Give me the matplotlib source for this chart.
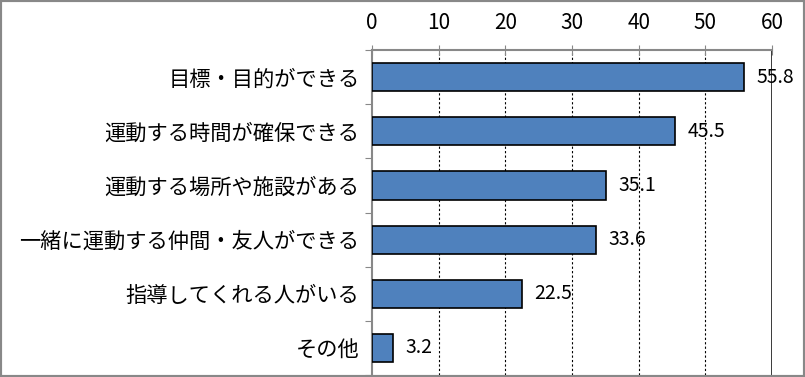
import matplotlib
matplotlib.use("Agg")
import matplotlib.pyplot as plt
from matplotlib.patches import Rectangle
import numpy as np

plt.rcParams['font.family'] = ['Noto Sans CJK JP', 'DejaVu Sans']

categories = ["目標・目的ができる", "運動する時間が確保できる", "運動する場所や施設がある",
              "一緒に運動する仲間・友人ができる", "指導してくれる人がいる", "その他"]
values = [55.8, 45.5, 35.1, 33.6, 22.5, 3.2]
xticks = [0, 10, 20, 30, 40, 50, 60]

fig = plt.figure(figsize=(8.05, 3.77), dpi=100)
ax = fig.add_axes([372/805, 2/377, 400/805, 325/377])

y = np.arange(len(categories))
ax.barh(y, values, height=0.52, color="#4F81BD", edgecolor="black", linewidth=1.2, zorder=3)
for yi, v in zip(y, values):
    ax.text(v + 1.8, yi, f"{v}", va="center", ha="left", fontsize=14, zorder=4)

ax.set_xlim(0, 60)
ax.set_ylim(len(categories) - 0.5, -0.5)
ax.xaxis.tick_top()
ax.set_xticks(xticks)
ax.set_xticklabels([str(t) for t in xticks], fontsize=15)
ax.tick_params(axis='x', direction='inout', length=7, color='#888888', pad=8)
for t in xticks[1:-1]:
    ax.axvline(t, color='black', linestyle=(0, (2, 2)), linewidth=0.8, zorder=1)
ax.axvline(60, color='black', linewidth=1.8, zorder=2)

ax.set_yticks(np.arange(len(categories) + 1) - 0.5, minor=False)
ax.set_yticklabels([""] * (len(categories) + 1))
ax.set_yticks(y, minor=True)
ax.set_yticklabels(categories, minor=True, fontsize=15.3)
ax.tick_params(axis='y', which='major', direction='out', length=5, color='#888888')
ax.tick_params(axis='y', which='minor', length=0, pad=9)

for s in ['right', 'bottom']:
    ax.spines[s].set_visible(False)
for s in ['top', 'left']:
    ax.spines[s].set_color('#888888')
    ax.spines[s].set_linewidth(1.5)

fig.patches.append(Rectangle((0, 0), 1, 1, transform=fig.transFigure, fill=False,
                             edgecolor='#888888', linewidth=3))

fig.savefig("out.png", dpi=100)
